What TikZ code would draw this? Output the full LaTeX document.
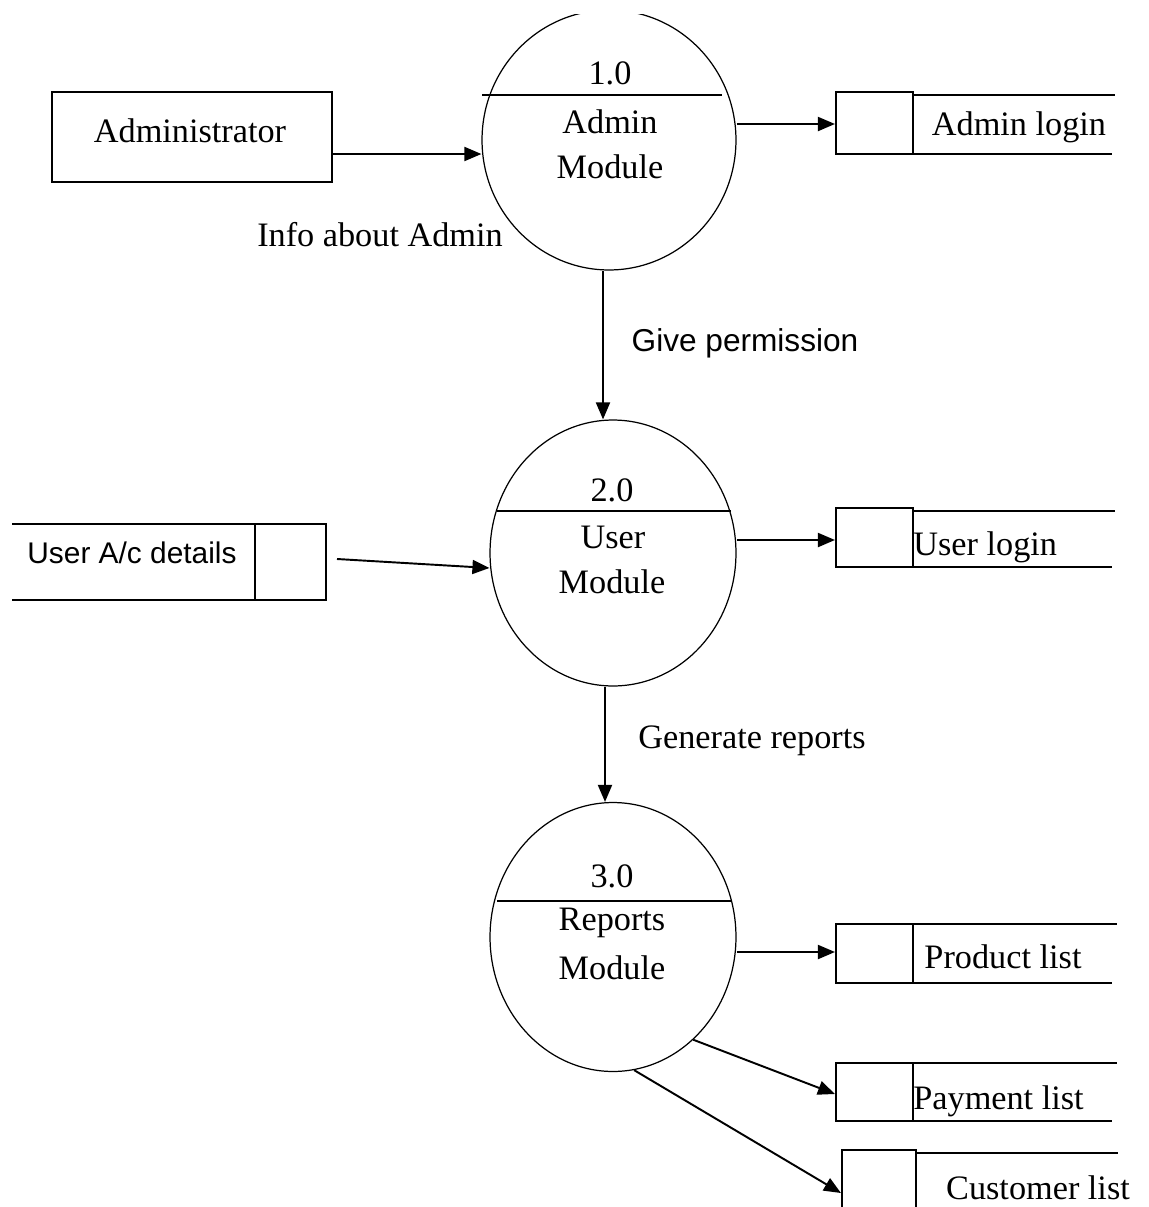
\documentclass[tikz,border=0pt]{standalone}
\usepackage{fontspec}
\setmainfont{Liberation Serif}
\setsansfont{Liberation Sans}
\usetikzlibrary{arrows.meta,shapes.geometric}
\begin{document}
\begin{tikzpicture}[x=0.02cm,y=-0.02cm,
  proc/.style={draw, ellipse, line width=0.7pt, inner sep=0pt},
  ent/.style={draw, line width=1.2pt, inner sep=0pt},
  sbox/.style={draw, line width=1.2pt, inner sep=0pt, minimum width=1.54cm},
  sline/.style={line width=1.2pt},
  flow/.style={line width=1.1pt, -{Triangle[length=0.34cm,width=0.28cm]}},
  lbl/.style={font=\fontsize{19.5}{23}\selectfont, inner sep=0pt},
  slbl/.style={font=\sffamily\fontsize{17}{20}\selectfont, inner sep=0pt}]
\useasboundingbox (0,0) rectangle (1149,1207);
\clip (0,14) rectangle (1149,1207);

% external entity
\node[ent, minimum width=5.6cm, minimum height=1.8cm] (adm) at (192,137) {};
\node[lbl] (admt) at (190,131) {Administrator};

% processes
\node[proc, minimum width=5.08cm, minimum height=5.2cm] (p1) at (609,140) {};
\node[proc, minimum width=4.92cm, minimum height=5.32cm] (p2) at (613,553) {};
\node[proc, minimum width=4.92cm, minimum height=5.38cm] (p3) at (613,937) {};
\draw[sline] (482,95) -- (722,95);
\draw[sline] (497,511) -- (731,511);
\draw[sline] (497,901) -- (731,901);
\node[lbl] (p1n) at (610,73) {1.0};
\node[lbl] (p1a) at (610,122) {Admin};
\node[lbl] (p1b) at (610,167) {Module};
\node[lbl] (p2n) at (612,490) {2.0};
\node[lbl] (p2a) at (613,537) {User};
\node[lbl] (p2b) at (612,582) {Module};
\node[lbl] (p3n) at (612,876) {3.0};
\node[lbl] (p3a) at (612,923) {Reports};
\node[lbl] (p3b) at (612,968) {Module};

% data stores
\node[sbox, minimum height=1.24cm] (s1) at (874.5,123) {};
\draw[sline] (913,95) -- (1115,95);
\draw[sline] (913,154) -- (1112,154);
\node[lbl] (s1t) at (1019,127) {Admin login};

\node[sbox, minimum height=1.18cm] (s2) at (874.5,537.5) {};
\draw[sline] (913,511) -- (1115,511);
\draw[sline] (913,567) -- (1112,567);
\node[lbl, anchor=west] (s2t) at (913,547) {User login};

\node[sbox, minimum height=1.18cm] (s3) at (874.5,953.5) {};
\draw[sline] (913,924) -- (1117,924);
\draw[sline] (913,983) -- (1112,983);
\node[lbl] (s3t) at (1003,957) {Product list};

\node[sbox, minimum height=1.16cm] (s4) at (874.5,1092) {};
\draw[sline] (913,1063) -- (1117,1063);
\draw[sline] (913,1121) -- (1112,1121);
\node[lbl, anchor=west] (s4t) at (913,1101) {Payment list};

\node[sbox, minimum width=1.48cm, minimum height=1.6cm] (s5) at (879,1190) {};
\draw[sline] (916,1153) -- (1118,1153);
\node[lbl] (s5t) at (1038,1188) {Customer list};

\node[sbox, minimum width=1.42cm, minimum height=1.52cm] (uac) at (290.5,562) {};
\draw[sline] (12,524) -- (255,524);
\draw[sline] (12,600) -- (255,600);
\node[slbl] (uact) at (132,553) {User A/c details};

% flows
\draw[flow] (adm.east |- 0,154) -- (p1.west |- 0,154);
\node[lbl] (l1) at (380,235) {Info about Admin};
\draw[flow] (p1.east |- 0,124) -- (s1.west |- 0,124);
\draw[flow] (p1.south -| 603,0) -- (p2.north -| 603,0);
\node[slbl, font=\sffamily\fontsize{18}{21}\selectfont] (l2) at (745,343) {Give permission};
\coordinate (uacout) at (337,559);
\draw[flow] (uacout) -- (p2.west |- 0,568);
\draw[flow] (p2.east |- 0,540) -- (s2.west |- 0,540);
\draw[flow] (p2.south -| 605,0) -- (p3.north -| 605,0);
\node[lbl] (l3) at (752,741) {Generate reports};
\draw[flow] (p3.east |- 0,952) -- (s3.west |- 0,952);
\draw[flow] (p3.-52) -- (s4.west |- 0,1094);
\draw[flow] (p3.-81.6) -- (s5.west |- 0,1193);
\end{tikzpicture}
\end{document}
